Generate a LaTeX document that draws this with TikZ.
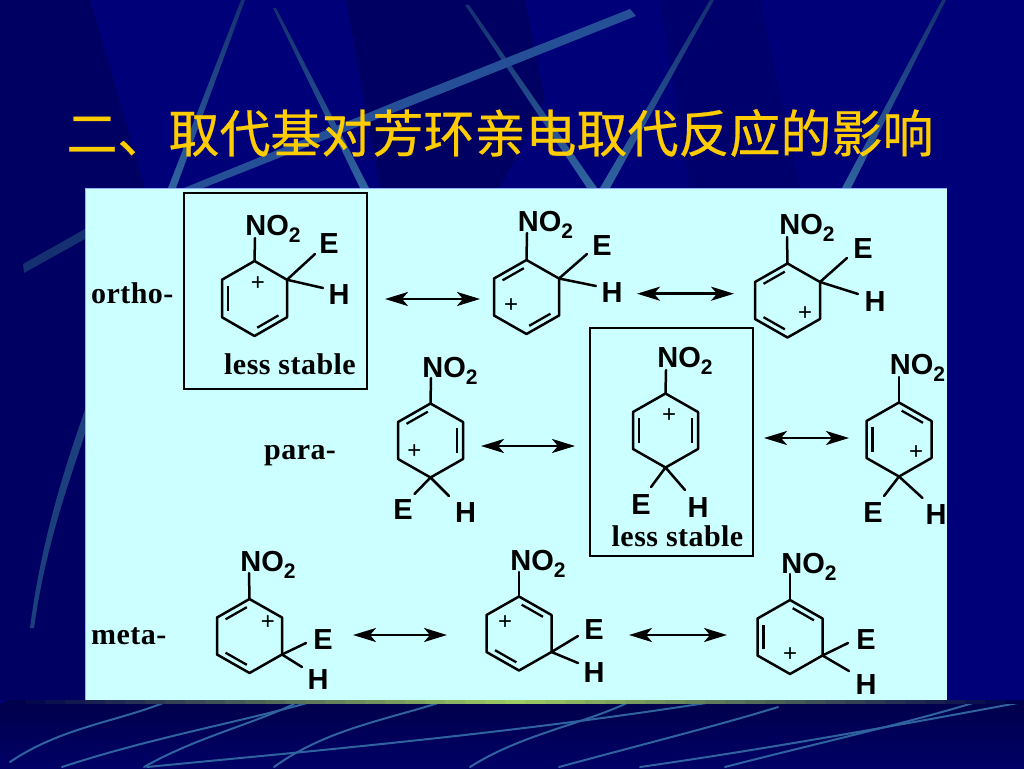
\documentclass[tikz,border=0pt]{standalone}
\usepackage{fontspec}
\usetikzlibrary{arrows.meta,calc}
\setmainfont{Liberation Sans}
\newfontfamily\lblfont{Liberation Serif}[LetterSpace=1.5]
\newfontfamily\cjkfont{Noto Sans CJK SC}[FakeBold=0.5]
\definecolor{navy}{HTML}{000078}
\definecolor{navydark}{HTML}{000062}
\definecolor{navyfoot}{HTML}{00004C}
\definecolor{panel}{HTML}{CCFFFF}
\definecolor{streak}{HTML}{2F639F}
\definecolor{streakdim}{HTML}{143070}
\definecolor{barlight}{HTML}{9CCC64}
\definecolor{titlegold}{HTML}{FFCC00}
\tikzset{
  bondline/.style={line width=2.5pt,line cap=round,line join=round,black},
  dblline/.style={line width=2.3pt,line cap=butt,black},
  atom/.style={font=\fontsize{29}{29}\selectfont\bfseries,inner sep=0pt,text=black,yshift=-1pt},
  nitro/.style={atom,yshift=-2.5pt},
  pluslbl/.style={font=\fontsize{24}{24}\selectfont,inner sep=0pt,text=black},
  isomer/.style={font=\lblfont\fontsize{30}{30}\selectfont\bfseries,inner sep=0pt,text=black,anchor=base west},
  stablelbl/.style={font=\lblfont\fontsize{30}{30}\selectfont\bfseries,inner sep=0pt,text=black},
  framebox/.style={draw=black,line width=2.5pt},
  resarrow/.style={line width=2.6pt,black,{Stealth[length=23pt,width=14pt,inset=6pt]}-{Stealth[length=23pt,width=14pt,inset=6pt]}},
  thinstreak/.style={top color=streakdim,bottom color=streak,draw=none},
  footline/.style={streak,line width=2pt,line cap=round},
}
\newcommand{\NOtwo}{NO\raisebox{-.24em}{\fontsize{21}{21}\selectfont 2}}
% ring: id, cx, cy, half width, half height
\newcommand{\Ring}[5]{%
  \coordinate (#1c) at (#2,#3);
  \coordinate (#11) at (#2,{#3-#5});
  \coordinate (#12) at ({#2+#4},{#3-#5/2});
  \coordinate (#13) at ({#2+#4},{#3+#5/2});
  \coordinate (#14) at (#2,{#3+#5});
  \coordinate (#15) at ({#2-#4},{#3+#5/2});
  \coordinate (#16) at ({#2-#4},{#3-#5/2});
  \draw[bondline] (#11)--(#12)--(#13)--(#14)--(#15)--(#16)--cycle;
}
% inner line of a double bond: id, vertex a, vertex b
\newcommand{\Dbl}[3]{%
  \draw[dblline] ($(#1c)!.82!($(#1#2)!.1!(#1#3)$)$) -- ($(#1c)!.82!($(#1#3)!.1!(#1#2)$)$);
}
% substituents: id, NO2 bond end, NO2 label, E bond from-vertex, E end, E label, H end, H label, plus
\newcommand{\Subs}[9]{%
  \coordinate (#1n) at (#2);
  \node[nitro] (#1no) at (#3) {\NOtwo};
  \draw[bondline] (#11) -- (#1n);
  \coordinate (#1e) at (#5);
  \node[atom] (#1elbl) at (#6) {E};
  \draw[bondline] (#1#4) -- (#1e);
  \coordinate (#1h) at (#7);
  \node[atom] (#1hlbl) at (#8) {H};
  \draw[bondline] (#1#4) -- (#1h);
  \node[pluslbl] (#1plus) at (#9) {+};
}
\newcommand{\ResArrow}[4]{%
  \coordinate (#1l) at (#2,#4);
  \coordinate (#1r) at (#3,#4);
  \draw[resarrow] (#1l) -- (#1r);
}
\begin{document}
\begin{tikzpicture}[x=1pt,y=-1pt]
\useasboundingbox (0,0) rectangle (1024,768);
% background
\fill[navy] (0,0) rectangle (1024,768);
\fill[navydark] (0,0) -- (90,0) -- (145,188) -- (85,188) -- (85,700) -- (0,700) -- cycle;
\fill[navydark] (346,0) -- (525,0) -- (545,100) -- (500,188) -- (380,188) -- cycle;
\fill[navydark!50!navy] (660,0) -- (760,0) -- (800,188) -- (690,188) -- cycle;
\shade[top color=navyfoot,bottom color=navy!85!black] (0,703) rectangle (1024,768);
% upper streaks
\shade[thinstreak] (241,0) -- (245,0) -- (176,188) -- (168,188) -- cycle;
\shade[thinstreak] (273,8) -- (276,8) -- (369,188) -- (360,188) -- cycle;
\shade[thinstreak] (465,5) -- (469,5) -- (597,188) -- (587,188) -- cycle;
\shade[thinstreak] (710,0) -- (714,0) -- (610,188) -- (600,188) -- cycle;
\shade[thinstreak] (942,0) -- (946,0) -- (851,188) -- (842,188) -- cycle;
\fill[streak!80!navy] (636,16) -- (630,9) -- (400,100) -- (184,188) -- (203,188) -- (410,106) -- cycle;
% side streaks
\fill[streakdim] (85,229) -- (85,239) -- (24,273) -- (23,264) -- cycle;
\fill[streakdim!70!streak] (85,410) .. controls (60,480) and (40,550) .. (30,628) -- (34,628) .. controls (45,550) and (66,490) .. (85,434) -- cycle;
% footer lines
\draw[footline] (10,762) .. controls (60,728) and (115,722) .. (163,703);
\draw[footline] (62,767) .. controls (150,738) and (240,722) .. (307,703);
\draw[footline] (144,767) .. controls (195,738) and (250,725) .. (294,704);
\draw[footline] (274,767) .. controls (325,730) and (385,720) .. (438,703);
\draw[footline] (147,767) .. controls (300,752) and (500,735) .. (706,703);
\draw[footline] (470,767) .. controls (520,735) and (580,725) .. (627,703);
\draw[footline] (559,767) .. controls (640,745) and (720,725) .. (778,707);
\draw[footline] (640,767) .. controls (760,750) and (900,725) .. (1023,702);
\draw[footline] (725,767) .. controls (810,745) and (900,725) .. (973,703);
% bar under the panel
\foreach \i in {0,...,50}{
  \pgfmathsetmacro{\mixv}{100*(1-abs(\i-25)/25)}
  \fill[barlight!\mixv!navyfoot] ({5+\i*20},700) rectangle ({5+\i*20+20.5},704);
}
% panel
\fill[panel] (85,188) rectangle (947,700);
\draw[blue!30!panel,line width=1pt] (85.5,700) -- (85.5,188.5) -- (947,188.5);
% title
\node[font=\cjkfont\fontsize{51}{51}\selectfont,text=titlegold,inner sep=0pt] (title) at (500,133) {二、取代基对芳环亲电取代反应的影响};
% isomer labels
\node[isomer] (ortho) at (91,303) {ortho-};
\node[isomer] (para) at (264,459) {para-};
\node[isomer] (meta) at (91,644) {meta-};
% boxes
\node[framebox,minimum width=183pt,minimum height=196pt,inner sep=0pt] (boxA) at (275.5,291) {};
\node[framebox,minimum width=163pt,minimum height=228pt,inner sep=0pt] (boxE) at (671.5,442) {};
\node[stablelbl] (lsA) at (290,364) {less stable};
\node[stablelbl] (lsE) at (677.5,536) {less stable};
% ortho
\Ring{A}{254.5}{298.5}{32.5}{37.5}
\Dbl{A}{5}{6}\Dbl{A}{3}{4}
\Subs{A}{255,238}{273,225}{2}{315,254}{329,243}{323,288}{339,294}{258,284}
\Ring{B}{526.5}{297}{32.5}{37}
\Dbl{B}{6}{1}\Dbl{B}{3}{4}
\Subs{B}{527,233}{545.5,221}{2}{587,254}{602,245}{596,286}{612,292}{511,306}
\Ring{C}{787.5}{300.5}{32.5}{37}
\Dbl{C}{6}{1}\Dbl{C}{4}{5}
\Subs{C}{787,237}{807,224}{2}{847,258}{863,248}{858,294}{875,301}{805,314}
% para
\Ring{D}{430.5}{440.5}{32.5}{37}
\Dbl{D}{6}{1}\Dbl{D}{2}{3}
\Subs{D}{431,378}{450,367}{4}{414.5,494}{403,509}{449,496}{465.5,512}{414.5,452}
\Ring{E}{665.5}{430.5}{32.5}{37}
\Dbl{E}{5}{6}\Dbl{E}{2}{3}
\Subs{E}{666,370}{685,357}{4}{651,487}{641,504}{685,490}{698,507}{669,416}
\Ring{F}{899}{439.5}{32.5}{37}
\Dbl{F}{5}{6}\Dbl{F}{1}{2}
\Subs{F}{899,377}{917.5,364}{4}{884,496}{873,512}{922.5,498}{936,514}{916,453}
% meta
\Ring{G}{249.5}{636}{32.5}{37}
\Dbl{G}{6}{1}\Dbl{G}{4}{5}
\Subs{G}{249,573}{268,561}{3}{306,643}{323,639}{302,667}{318,679}{268,623}
\Ring{H}{519}{633.5}{32.5}{37}
\Dbl{H}{1}{2}\Dbl{H}{4}{5}
\Subs{H}{519,572}{538,560}{3}{578,636}{594,629}{578,663}{594,672}{505,623}
\Ring{I}{790}{637}{32.5}{37}
\Dbl{I}{1}{2}\Dbl{I}{5}{6}
\Subs{I}{790,574}{809,563}{3}{848,643}{866,639}{849,671}{866,684}{790,655}
% resonance arrows
\ResArrow{ab}{385}{480}{299}
\ResArrow{bc}{637}{734}{293.7}
\ResArrow{de}{481}{575}{446}
\ResArrow{ef}{764}{849}{438}
\ResArrow{gh}{353}{447}{635}
\ResArrow{hi}{629}{727}{635}
\end{tikzpicture}
\end{document}
